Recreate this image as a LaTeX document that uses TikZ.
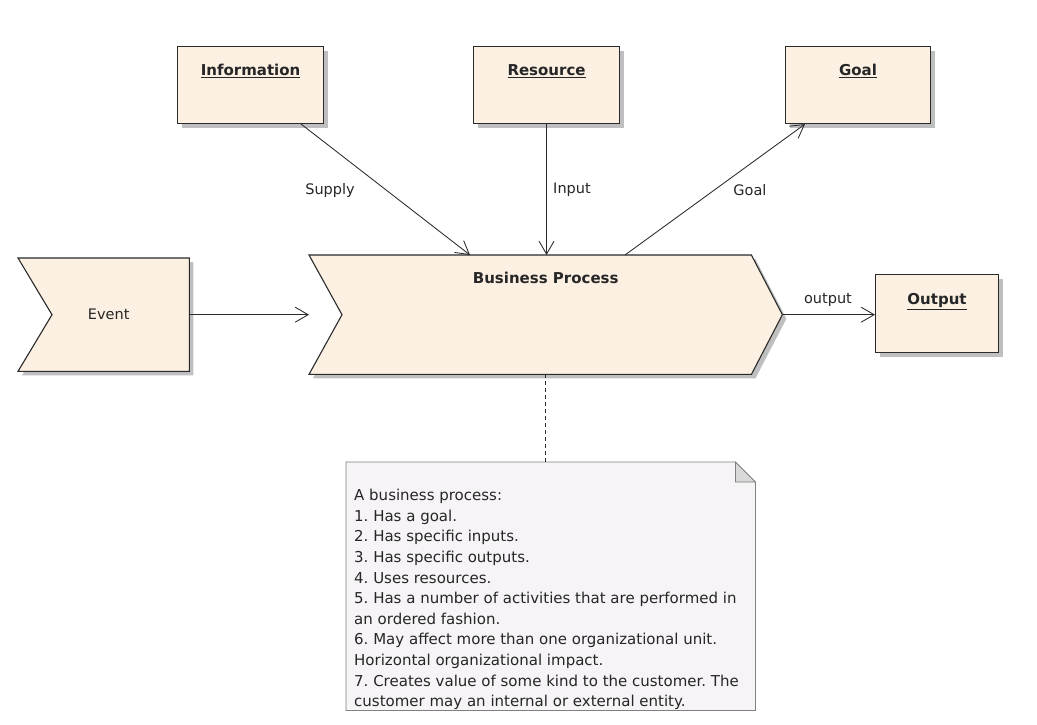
\documentclass[tikz,border=0pt]{standalone}
\usepackage{fontspec}
\setmainfont{DejaVu Sans}
\frenchspacing
\usetikzlibrary{arrows.meta,shadows,calc}
\definecolor{cream}{HTML}{FBF0E2}
\definecolor{edge}{HTML}{2A2A2A}
\definecolor{notefill}{HTML}{F6F4F6}
\definecolor{noteedge}{HTML}{808080}
\begin{document}
\begin{tikzpicture}[x=1pt,y=-1pt,
  shad/.style={drop shadow={shadow xshift=4pt,shadow yshift=-4pt,fill=black!25,opacity=1}},
  box/.style={draw=edge,fill=cream,line width=1.1pt,shad,inner sep=0pt,anchor=north west},
  title/.style={font=\fontsize{15}{16}\selectfont\bfseries,text=black!85},
  frame/.style={draw=none,inner sep=0pt,anchor=north west},
  chev/.style={draw=edge,fill=cream,line width=1.1pt,shad},
  conn/.style={draw=edge,line width=0.85pt,-{Straight Barb[length=13pt,width=15pt,line width=0.85pt]}},
  lbl/.style={font=\fontsize{14.5}{16}\selectfont,text=black!85,inner sep=0pt},
  notetext/.style={font=\fontsize{15}{20.6}\selectfont,text=black!85,align=left,anchor=north west,inner sep=0pt}]
\path[use as bounding box,fill=white] (0,0) rectangle (1037,725);

% boxes
\node[box,minimum width=146pt,minimum height=77pt,label={[title,anchor=north,yshift=-15pt]north:\underline{Information}}] (info) at (177,46) {};
\node[box,minimum width=146pt,minimum height=77pt,label={[title,anchor=north,yshift=-15pt]north:\underline{Resource}}] (res) at (473,46) {};
\node[box,minimum width=145pt,minimum height=77pt,label={[title,anchor=north,yshift=-15pt]north:\underline{Goal}}] (goal) at (785,46) {};
\node[box,minimum width=123pt,minimum height=78pt,label={[title,anchor=north,yshift=-16pt]north:\underline{Output}}] (out) at (875,274) {};

% event chevron
\node[frame,minimum width=171pt,minimum height=113pt] (event) at (18,258) {};
\path[chev] (event.north west) -- (event.north east) -- (event.south east) -- (event.south west) -- ([xshift=34pt]event.west) -- cycle;
\node[lbl] (eventtxt) at ([xshift=5pt]event.center) {Event};

% business process chevron
\node[frame,minimum width=473pt,minimum height=119pt] (bp) at (309,255) {};
\path[chev] (bp.north west) -- ([xshift=-31pt]bp.north east) -- (bp.east) -- ([xshift=-31pt]bp.south east) -- (bp.south west) -- ([xshift=33pt]bp.west) -- cycle;
\node[title,anchor=north,inner sep=0pt] (bptxt) at ([yshift=-17pt]bp.north) {Business Process};

% note
\node[frame,minimum width=409pt,minimum height=248pt] (note) at (346,462) {};
\path[draw=noteedge,fill=notefill,line width=0.8pt] (note.north west) -- ([xshift=-20pt]note.north east) -- ([yshift=-20pt]note.north east) -- (note.south east) -- (note.south west) -- cycle;
\path[draw=noteedge,fill=black!15,line width=0.8pt] ([xshift=-20pt]note.north east) -- ([xshift=-20pt,yshift=-20pt]note.north east) -- ([yshift=-20pt]note.north east) -- cycle;
\node[notetext] (notetxt) at ([xshift=8pt,yshift=-27pt]note.north west) {A business process:\\
1. Has a goal.\\
2. Has specific inputs.\\
3. Has specific outputs.\\
4. Uses resources.\\
5. Has a number of activities that are performed in\\
an ordered fashion.\\
6. May affect more than one organizational unit.\\
Horizontal organizational impact.\\
7. Creates value of some kind to the customer. The\\
customer may an internal or external entity.};

% connectors
\draw[conn] ([xshift=-23pt]info.south east) -- ([xshift=161pt]bp.north west);
\draw[conn] (res.south) -- (res.south |- bp.north);
\draw[conn] ([xshift=316pt]bp.north west) -- ([xshift=20pt]goal.south west);
\draw[conn] (event.east) -- (bp.west);
\draw[conn] (bp.east) -- (out.west |- bp.east);
\draw[draw=edge,line width=0.85pt,dash pattern=on 4pt off 3pt] (bp.south) -- (bp.south |- note.north);

% connector labels
\node[lbl] (supplylbl) at (330,190) {Supply};
\node[lbl] (inputlbl) at (572,190) {Input};
\node[lbl] (goallbl) at (750,190) {Goal};
\node[lbl] (outlbl) at (828,300) {output};
\end{tikzpicture}
\end{document}
